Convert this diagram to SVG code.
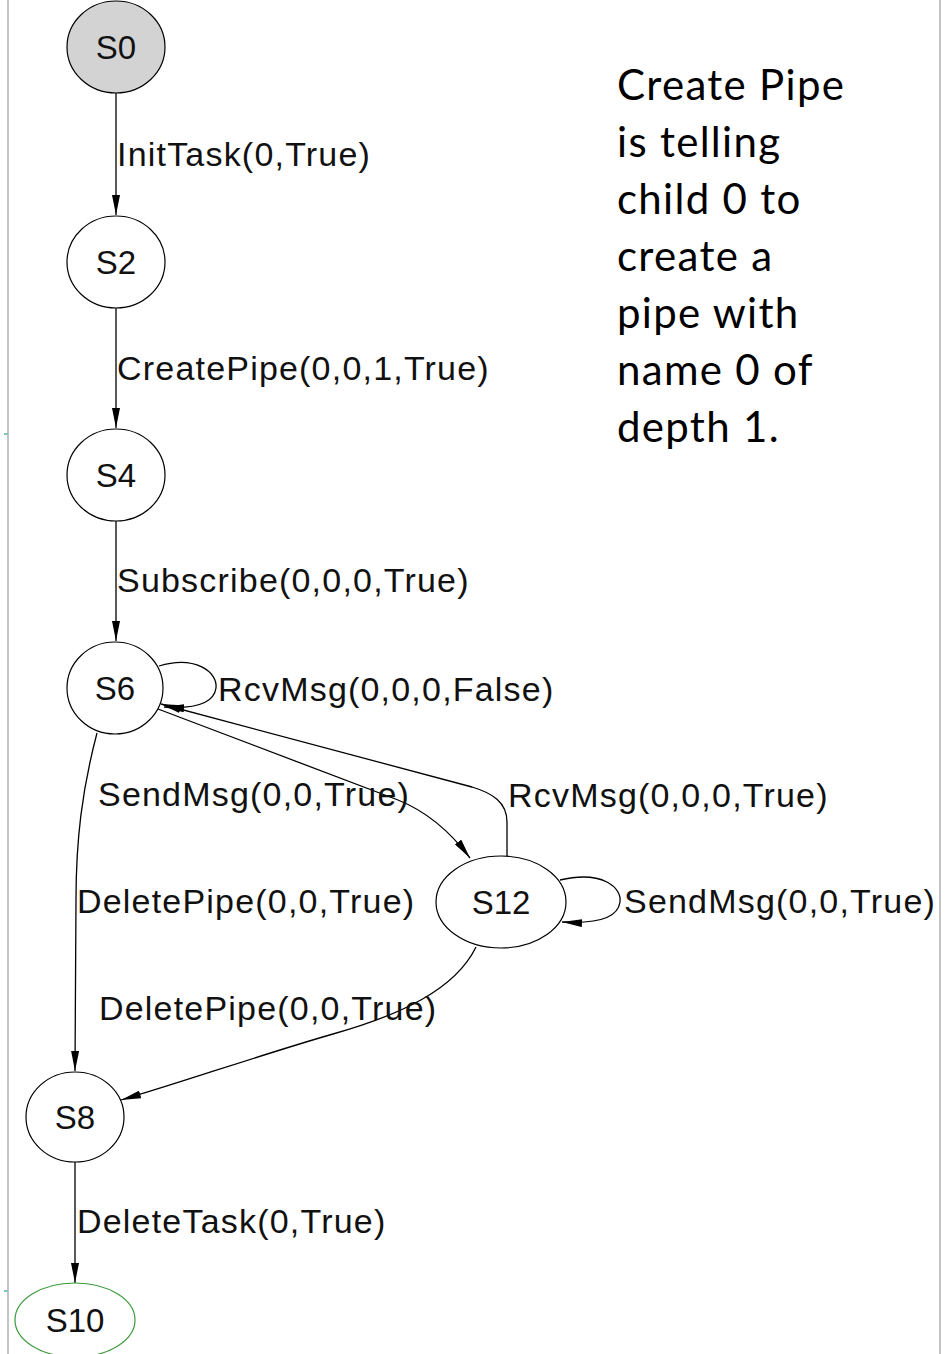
<svg xmlns="http://www.w3.org/2000/svg" width="949" height="1354" viewBox="0 0 949 1354">
  <style>
    .node ellipse { fill: #ffffff; stroke: #000000; stroke-width: 1.2; }
    .node text { font-family: "Liberation Sans", Arial, sans-serif; font-size: 33px; fill: #111; text-anchor: middle; }
    .edge { fill: none; stroke: #000000; stroke-width: 1.3; }
    .elabel { font-family: "Liberation Sans", Arial, sans-serif; font-size: 34px; fill: #111; letter-spacing: 1.2px; }
    .note { font-family: Lato, "Open Sans", sans-serif; font-size: 42px; fill: #000; letter-spacing: 1.3px; }
    .frame { stroke: #c4c4c4; stroke-width: 2; }
  </style>
  <defs>
    <marker id="arrow" viewBox="0 0 20 8" refX="20" refY="4" markerWidth="20" markerHeight="8" markerUnits="userSpaceOnUse" orient="auto">
      <path d="M0,0 L20,4 L0,8 z" fill="#000"/>
    </marker>
  </defs>

  <rect x="0" y="0" width="949" height="1354" fill="#ffffff"/>

  <!-- page frame edges -->
  <line class="frame" x1="8" y1="0" x2="8" y2="1354"/>
  <line class="frame" x1="940" y1="0" x2="940" y2="1354"/>
  <rect x="4" y="433" width="4" height="2" fill="#7fc6c0"/>
  <rect x="4" y="1290" width="4" height="2" fill="#7fc6c0"/>

  <!-- transitions -->
  <g id="edges">
    <path class="edge" marker-end="url(#arrow)" d="M116,93 L116,215"/>
    <path class="edge" marker-end="url(#arrow)" d="M116,308 L116,428"/>
    <path class="edge" marker-end="url(#arrow)" d="M116,521 L116,641"/>
    <path class="edge" marker-end="url(#arrow)" d="M159,666 C195,655 218,672 216,688 C214,703 195,709 164,707"/>
    <path class="edge" marker-end="url(#arrow)" d="M158,709 L398,800 C428,812 452,834 470,858"/>
    <path class="edge" marker-end="url(#arrow)" d="M507,857 L507,822 C507,802 492,793 472,787 L161,704"/>
    <path class="edge" marker-end="url(#arrow)" d="M560,880 C603,870 622,888 620,902 C618,917 598,924 562,922"/>
    <path class="edge" marker-end="url(#arrow)" d="M97,733 C82,790 76,840 76,900 L75,1071"/>
    <path class="edge" marker-end="url(#arrow)" d="M476,947 C455,990 400,1015 333,1034 C260,1055 180,1083 121,1100"/>
    <path class="edge" marker-end="url(#arrow)" d="M75,1162 L75,1283"/>

    <text class="elabel" x="117" y="166">InitTask(0,True)</text>
    <text class="elabel" x="117" y="380">CreatePipe(0,0,1,True)</text>
    <text class="elabel" x="117" y="592">Subscribe(0,0,0,True)</text>
    <text class="elabel" x="218" y="701">RcvMsg(0,0,0,False)</text>
    <text class="elabel" x="98" y="806">SendMsg(0,0,True)</text>
    <text class="elabel" x="508" y="807">RcvMsg(0,0,0,True)</text>
    <text class="elabel" x="77" y="913">DeletePipe(0,0,True)</text>
    <text class="elabel" x="624" y="913">SendMsg(0,0,True)</text>
    <text class="elabel" x="99" y="1020">DeletePipe(0,0,True)</text>
    <text class="elabel" x="77" y="1233">DeleteTask(0,True)</text>
  </g>

  <!-- states -->
  <g id="S0" class="node"><ellipse cx="116" cy="47" rx="49" ry="46" style="fill:#d3d3d3"/><text x="116" y="59">S0</text></g>
  <g id="S2" class="node"><ellipse cx="116" cy="262" rx="49" ry="46"/><text x="116" y="274">S2</text></g>
  <g id="S4" class="node"><ellipse cx="116" cy="475" rx="49" ry="46"/><text x="116" y="487">S4</text></g>
  <g id="S6" class="node"><ellipse cx="115" cy="688" rx="48" ry="46"/><text x="115" y="700">S6</text></g>
  <g id="S12" class="node"><ellipse cx="501" cy="902" rx="65" ry="46"/><text x="501" y="914">S12</text></g>
  <g id="S8" class="node"><ellipse cx="75" cy="1117" rx="49" ry="45"/><text x="75" y="1129">S8</text></g>
  <g id="S10" class="node"><ellipse cx="75" cy="1320" rx="60" ry="37" style="stroke:#3c9a3c"/><text x="75" y="1332">S10</text></g>

  <!-- side note -->
  <g id="note">
    <text class="note" x="617" y="100">Create Pipe</text>
    <text class="note" x="617" y="157">is telling</text>
    <text class="note" x="617" y="214">child 0 to</text>
    <text class="note" x="617" y="271">create a</text>
    <text class="note" x="617" y="328">pipe with</text>
    <text class="note" x="617" y="385">name 0 of</text>
    <text class="note" x="617" y="442">depth 1.</text>
  </g>
</svg>
